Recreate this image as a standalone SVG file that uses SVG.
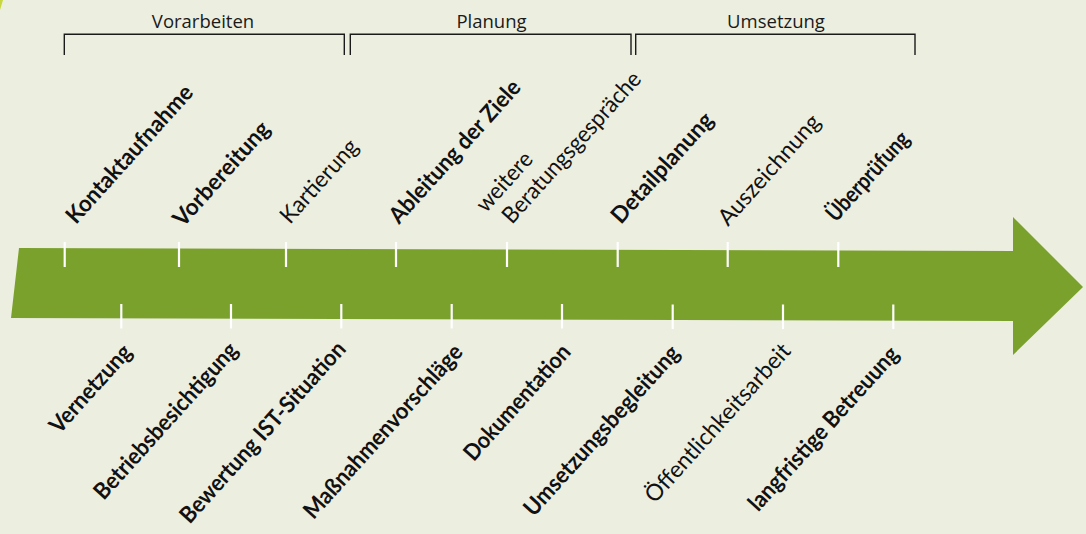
<svg xmlns="http://www.w3.org/2000/svg" width="1086" height="534" viewBox="0 0 1086 534">
<style>
.hdr{font-family:"Open Sans","DejaVu Sans",sans-serif;font-size:18.5px;fill:#1a1a1a;text-anchor:middle}
.lb{font-family:Lato,"Open Sans",sans-serif;font-size:23px;fill:#111}
.b{font-weight:bold}
.end{text-anchor:end}
.brk{fill:none;stroke:#1a1a1a;stroke-width:1.4}
.tick{stroke:#ffffff;stroke-width:2.2}
</style>
<rect x="0" y="0" width="1086" height="534" fill="#eceee0"/>
<polygon points="0,0 3,0 0,10" fill="#c8d640"/>
<g id="phases">
  <g id="vorarbeiten"><polyline class="brk" points="64.3,55 64.3,34.3 344.3,34.3 344.3,55"/><text class="hdr" x="203" y="28">Vorarbeiten</text></g>
  <g id="planung"><polyline class="brk" points="350.3,55 350.3,34.3 631,34.3 631,55"/><text class="hdr" x="491.5" y="27.5">Planung</text></g>
  <g id="umsetzung"><polyline class="brk" points="635.7,55 635.7,34.3 915,34.3 915,55"/><text class="hdr" x="776" y="27.5">Umsetzung</text></g>
</g>
<g id="arrow"><polygon points="19,248 1013,251 1013,217 1083,287 1013,355 1013,321 11,318" fill="#7ba12d"/></g>
<g id="connectors">
  <line class="tick" x1="64.7" y1="242" x2="64.7" y2="267"/>
  <line class="tick" x1="179" y1="242" x2="179" y2="267"/>
  <line class="tick" x1="286" y1="242" x2="286" y2="267"/>
  <line class="tick" x1="396" y1="242" x2="396" y2="267"/>
  <line class="tick" x1="507" y1="242" x2="507" y2="267"/>
  <line class="tick" x1="617.7" y1="242" x2="617.7" y2="267"/>
  <line class="tick" x1="727.7" y1="242" x2="727.7" y2="267"/>
  <line class="tick" x1="838.3" y1="242" x2="838.3" y2="267"/>
  <line class="tick" x1="121.3" y1="304" x2="121.3" y2="328.5"/>
  <line class="tick" x1="231" y1="304" x2="231" y2="328.5"/>
  <line class="tick" x1="341.3" y1="304" x2="341.3" y2="328.5"/>
  <line class="tick" x1="451.7" y1="304" x2="451.7" y2="328.5"/>
  <line class="tick" x1="562" y1="304" x2="562" y2="328.5"/>
  <line class="tick" x1="672.7" y1="304.5" x2="672.7" y2="329"/>
  <line class="tick" x1="783" y1="304.5" x2="783" y2="329"/>
  <line class="tick" x1="893.3" y1="304.5" x2="893.3" y2="329"/>
</g>
<g id="top-labels">
  <g id="kontaktaufnahme"><text class="lb b" transform="translate(76,225) rotate(-48)" textLength="177" lengthAdjust="spacingAndGlyphs">Kontaktaufnahme</text></g>
  <g id="vorbereitung"><text class="lb b" transform="translate(183,228) rotate(-48)" textLength="132" lengthAdjust="spacingAndGlyphs">Vorbereitung</text></g>
  <g id="kartierung"><text class="lb" transform="translate(290,225) rotate(-48)" textLength="104" lengthAdjust="spacingAndGlyphs">Kartierung</text></g>
  <g id="ableitung"><text class="lb b" transform="translate(399,225) rotate(-48)" textLength="184" lengthAdjust="spacingAndGlyphs">Ableitung der Ziele</text></g>
  <g id="beratung"><text class="lb" transform="translate(512,225) rotate(-48)"><tspan x="-9" y="-27" textLength="72" lengthAdjust="spacingAndGlyphs">weitere</tspan><tspan x="0" y="0" textLength="195" lengthAdjust="spacingAndGlyphs">Beratungsgespräche</tspan></text></g>
  <g id="detailplanung"><text class="lb b" transform="translate(621,225) rotate(-48)" textLength="140" lengthAdjust="spacingAndGlyphs">Detailplanung</text></g>
  <g id="auszeichnung"><text class="lb" transform="translate(728,227) rotate(-48)" textLength="140" lengthAdjust="spacingAndGlyphs">Auszeichnung</text></g>
  <g id="ueberpruefung"><text class="lb b" transform="translate(836,223) rotate(-48)" textLength="112" lengthAdjust="spacingAndGlyphs">Überprüfung</text></g>
</g>
<g id="bottom-labels">
  <g id="vernetzung"><text class="lb b end" transform="translate(133,353) rotate(-48)" textLength="110" lengthAdjust="spacingAndGlyphs">Vernetzung</text></g>
  <g id="betriebsbesichtigung"><text class="lb b end" transform="translate(239,351) rotate(-48)" textLength="202" lengthAdjust="spacingAndGlyphs">Betriebsbesichtigung</text></g>
  <g id="bewertung"><text class="lb b end" transform="translate(347,350) rotate(-48)" textLength="235" lengthAdjust="spacingAndGlyphs">Bewertung IST-Situation</text></g>
  <g id="massnahmen"><text class="lb b end" transform="translate(464,353) rotate(-48)" textLength="225" lengthAdjust="spacingAndGlyphs">Maßnahmenvorschläge</text></g>
  <g id="dokumentation"><text class="lb b end" transform="translate(572,353) rotate(-48)" textLength="147" lengthAdjust="spacingAndGlyphs">Dokumentation</text></g>
  <g id="umsetzungsbegleitung"><text class="lb b end" transform="translate(681,354) rotate(-48)" textLength="220" lengthAdjust="spacingAndGlyphs">Umsetzungsbegleitung</text></g>
  <g id="oeffentlichkeitsarbeit"><text class="lb end" transform="translate(792,352) rotate(-48)" textLength="205" lengthAdjust="spacingAndGlyphs">Öffentlichkeitsarbeit</text></g>
  <g id="langfristig"><text class="lb b end" transform="translate(900,355) rotate(-48)" textLength="212" lengthAdjust="spacingAndGlyphs">langfristige Betreuung</text></g>
</g>
</svg>
